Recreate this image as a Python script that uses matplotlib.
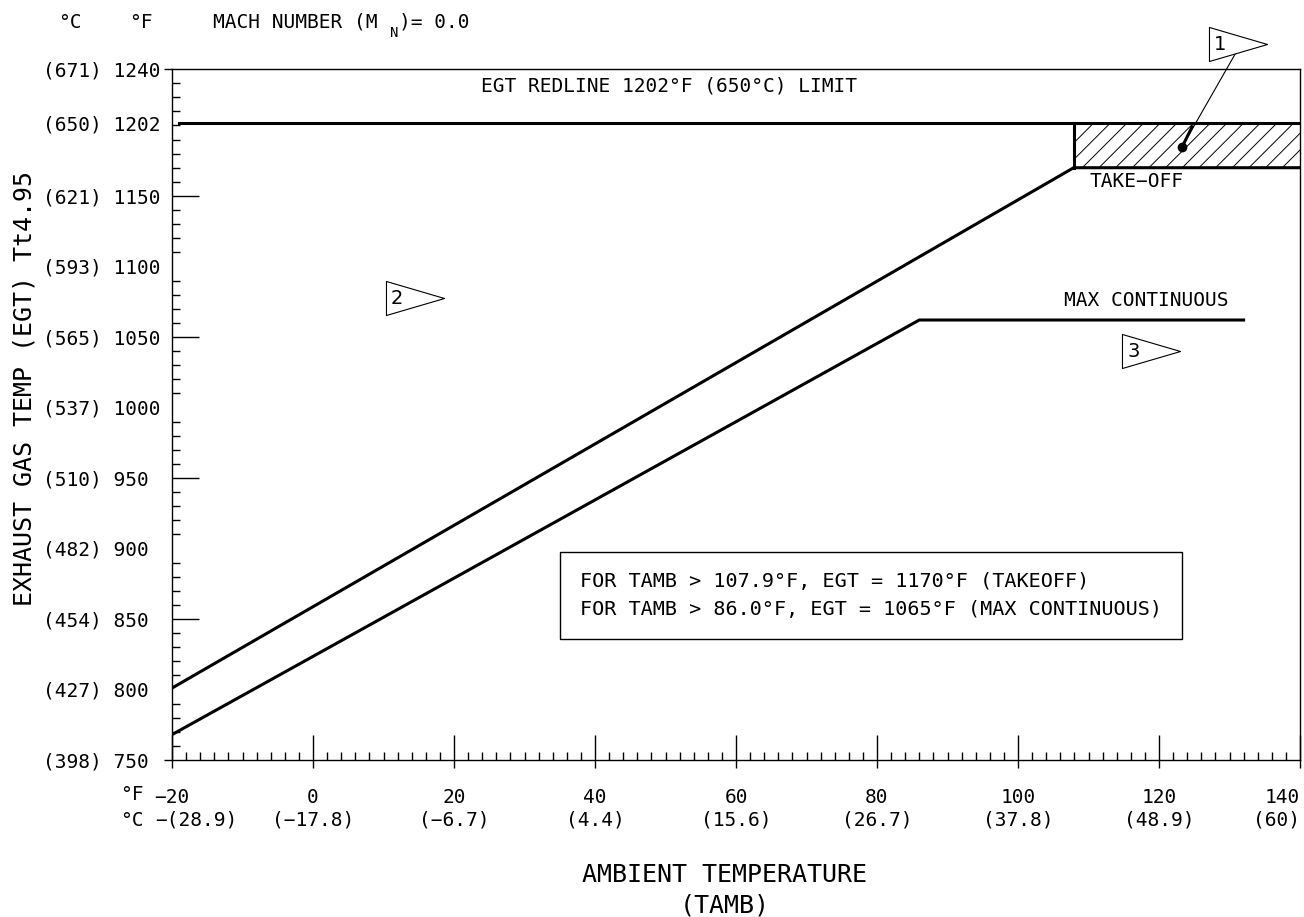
import numpy as np
import matplotlib.pyplot as plt
from matplotlib.path import Path
from matplotlib import transforms

plt.rcParams['font.family'] = ['DejaVu Sans Mono', 'DejaVu Sans']
plt.rcParams['hatch.linewidth'] = 0.7
plt.rcParams['axes.unicode_minus'] = True

# EGT limit lines (deg F)
takeoff_tamb = [-20, 107.9, 140]
takeoff_egt = [801, 1170, 1170]
maxcont_tamb = [-20, 86.0, 132]
maxcont_egt = [768, 1062, 1062]
redline_tamb = [-19, 140]
redline_egt = [1202, 1202]
band_tamb = [107.9, 140]
band_lo = 1170
band_hi = 1202

# axis labels
y_ticks_f = [750, 800, 850, 900, 950, 1000, 1050, 1100, 1150, 1202, 1240]
y_ticks_c = [398, 427, 454, 482, 510, 537, 565, 593, 621, 650, 671]
x_ticks_f = [-20, 0, 20, 40, 60, 80, 100, 120, 140]
x_ticks_c = ['−(28.9)', '(−17.8)', '(−6.7)', '(4.4)', '(15.6)',
             '(26.7)', '(37.8)', '(48.9)', '(60)']

# flag notes: (tamb, egt, number)
flags = [(131.2, 1257.7, '1'), (14.4, 1077.6, '2'), (118.9, 1040.0, '3')]
note_point = (123.3, 1185)
note_leader_start = (130.8, 1250.6)
note_leader_thick = (124.7, 1199)

W, H = 1304, 917


def px(x, y):
    return x / W, 1 - y / H


fig = plt.figure(figsize=(W / 100, H / 100), dpi=100)
rect = [172 / W, 1 - 760 / H, (1300 - 172) / W, (760 - 69) / H]
ax = fig.add_axes(rect)
ax.set_xlim(-20, 140)
ax.set_ylim(750, 1240)
for s in ax.spines.values():
    s.set_linewidth(1.0)

# curves
ax.plot(takeoff_tamb, takeoff_egt, color='black', lw=2.2, solid_joinstyle='miter')
ax.plot(maxcont_tamb, maxcont_egt, color='black', lw=2.2, solid_joinstyle='miter')
ax.plot(redline_tamb, redline_egt, color='black', lw=2.2)
ax.fill_between(band_tamb, band_lo, band_hi, facecolor='none', edgecolor='black',
                hatch='//', linewidth=0)
ax.plot([band_tamb[0], band_tamb[0]], [band_lo, band_hi], color='black', lw=2.2)

# ticks
ax.set_xticks(x_ticks_f, labels=[str(v).replace('-', '−') for v in x_ticks_f])
ax.set_xticks(np.arange(-20, 141, 2), minor=True)
ax.tick_params(axis='x', which='major', direction='in', length=18, width=1,
               pad=20, labelsize=14)
ax.tick_params(axis='x', which='minor', direction='in', length=5.8, width=1)
ax.get_xticklabels()[-1].set_horizontalalignment('right')
ax.set_yticks(y_ticks_f, labels=[f'({c}) {f}' for f, c in zip(y_ticks_f, y_ticks_c)])
ax.set_yticks(np.arange(750, 1241, 10), minor=True)
ax.tick_params(axis='y', which='major', length=0, pad=93, labelsize=14)
ax.tick_params(axis='y', which='minor', direction='in', length=5.8, width=1)
for lab in ax.get_yticklabels():
    lab.set_horizontalalignment('left')

# overlay axes for the extra long / outward ticks
ov = fig.add_axes(rect)
ov.set_xlim(-20, 140)
ov.set_ylim(750, 1240)
ov.patch.set_visible(False)
for s in ov.spines.values():
    s.set_visible(False)
ov.set_xticks(x_ticks_f, labels=[])
ov.tick_params(axis='x', which='major', direction='out', length=6, width=1)
ov.set_yticks([850, 950, 1050, 1150], labels=[])
ov.set_yticks([750, 850, 950, 1050, 1150, 1240], labels=[], minor=True)
ov.tick_params(axis='y', which='major', direction='in', length=19.4, width=1)
ov.tick_params(axis='y', which='minor', direction='out', length=6, width=1)

# celsius row under x ticks
row = transforms.blended_transform_factory(ax.transData, fig.transFigure)
for i, (f, c) in enumerate(zip(x_ticks_f, x_ticks_c)):
    if i == 0:
        ha, xx = 'left', f - 2.4
    elif i == len(x_ticks_f) - 1:
        ha, xx = 'right', f
    else:
        ha, xx = 'center', f
    ax.text(xx, 1 - 820 / H, c, transform=row, ha=ha, va='center',
            fontsize=14, clip_on=False)
fig.text(*px(132, 794), '°F', ha='center', va='center', fontsize=14)
fig.text(*px(132, 820), '°C', ha='center', va='center', fontsize=14)

# axis titles
fig.text(*px(725, 875), 'AMBIENT TEMPERATURE', ha='center', va='center', fontsize=18)
fig.text(*px(725, 905), '(TAMB)', ha='center', va='center', fontsize=18)
fig.text(*px(25, 388), 'EXHAUST GAS TEMP (EGT) Tt4.95', rotation=90,
         ha='center', va='center', fontsize=18)

# header
fig.text(*px(70, 22), '°C', ha='center', va='center', fontsize=14)
fig.text(*px(141, 22), '°F', ha='center', va='center', fontsize=14)
fig.text(*px(213, 22), 'MACH NUMBER (M', ha='left', va='center', fontsize=14)
fig.text(*px(394, 33), 'N', ha='center', va='center', fontsize=10)
fig.text(*px(399, 22), ')= 0.0', ha='left', va='center', fontsize=14)

# in-plot labels
ax.text(23.8, 1228, 'EGT REDLINE 1202°F (650°C) LIMIT', ha='left', va='center', fontsize=14)
ax.text(110.1, 1160.5, 'TAKE−OFF', ha='left', va='center', fontsize=14)
ax.text(106.5, 1075.5, 'MAX CONTINUOUS', ha='left', va='center', fontsize=14)
ax.text(79.1, 866.6,
        'FOR TAMB > 107.9°F, EGT = 1170°F (TAKEOFF)\n'
        'FOR TAMB > 86.0°F, EGT = 1065°F (MAX CONTINUOUS)',
        ha='center', va='center', multialignment='left', fontsize=14.5, linespacing=1.6,
        bbox=dict(boxstyle='square,pad=1.0', fc='white', ec='black', lw=1))

# flag notes
flag_marker = Path([(-29, -17), (29, 0), (-29, 17), (-29, -17)],
                   [Path.MOVETO, Path.LINETO, Path.LINETO, Path.CLOSEPOLY])
ax.plot([note_leader_start[0], note_point[0]], [note_leader_start[1], note_point[1]],
        color='black', lw=0.8, clip_on=False)
ax.plot([note_leader_thick[0], note_point[0]], [note_leader_thick[1], note_point[1]],
        color='black', lw=2.2)
ax.plot(note_point[0], note_point[1], 'o', color='black', ms=6)
for fx, fy, num in flags:
    ax.plot(fx, fy, ls='none', marker=flag_marker, ms=41.8, mfc='white',
            mec='black', mew=0.8, clip_on=False)
    ax.text(fx - 3.4, fy, num, ha='left', va='center', fontsize=14,
            family='DejaVu Sans', clip_on=False)

fig.savefig('out.png', dpi=100)
